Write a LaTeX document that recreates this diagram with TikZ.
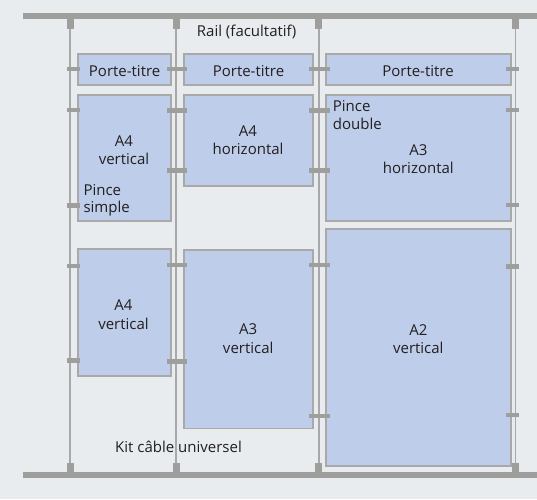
\documentclass[tikz,border=0pt]{standalone}
\usepackage{fontspec}
\setmainfont{Open Sans}
\definecolor{bgc}{HTML}{E8ECEF}
\definecolor{railc}{HTML}{9E9E9C}
\definecolor{cablec}{HTML}{A8A8A8}
\definecolor{panelc}{HTML}{BDCDEA}
\definecolor{panelb}{HTML}{A9A9A9}
\definecolor{txtc}{HTML}{231F20}
\tikzset{
  rail/.style={fill=railc},
  cable/.style={draw=cablec, line width=1.8pt},
  clampbar/.style={fill=railc},
  panel/.style={fill=panelc, draw=panelb, line width=1.4pt},
  lbl/.style={font=\fontsize{15}{18}\selectfont, text=txtc, inner sep=0pt, anchor=base},
  lbll/.style={lbl, anchor=base west},
}
\begin{document}
\begin{tikzpicture}[x=1pt,y=-1pt]
\useasboundingbox (0,0) rectangle (537,499);
\fill[bgc] (0,0) rectangle (537,499);
% cables
\foreach \cx in {70,176,319,515.5}{
  \draw[cable] (\cx,19) -- (\cx,472);
}
% rails
\fill[rail] (23.3,13.3) rectangle (537,19.3);
\fill[rail] (23.3,472) rectangle (537,478.3);
% caps
\foreach \cx in {70.3,176.2,318.7,515.7}{
  \fill[rail] (\cx-3.7,19) rectangle (\cx+3.7,29.3);
  \fill[rail] (\cx-3.7,463) rectangle (\cx+3.7,472.2);
}
% panels
\path[panel] (78,54) rectangle (171,85);
\path[panel] (184,54) rectangle (313,85);
\path[panel] (326,54) rectangle (511,85);
\path[panel] (78,95) rectangle (171,221);
\path[panel] (184,95) rectangle (313,186);
\path[panel] (326,95) rectangle (511,221);
\path[panel] (78,249) rectangle (171,376);
\path[panel] (184,250) rectangle (313,428.5);
\path[panel] (326,229) rectangle (511,466);
% clamps
\foreach \cy in {69,110,205.3,266,360.3}{
  \fill[clampbar] (67,\cy-2.2) rectangle (80,\cy+2.2);
}
\foreach \cy in {69,110.3,170.5,265,361.5}{
  \fill[clampbar] (166.7,\cy-2.3) rectangle (187,\cy+2.3);
}
\foreach \cy in {69,110.3,170.5,265,416}{
  \fill[clampbar] (309,\cy-2.3) rectangle (330,\cy+2.3);
}
\foreach \cy in {69,110,205,266.3,415}{
  \fill[clampbar] (505.5,\cy-2.2) rectangle (519,\cy+2.2);
}
% labels
\node[lbll] (rail) at (196.7,36.5) {Rail (facultatif)};
\node[lbl] (pt1) at (124.6,76.5) {Porte-titre};
\node[lbl] (pt2) at (248.5,76.5) {Porte-titre};
\node[lbl] (pt3) at (418,76.5) {Porte-titre};
\node[lbl] (a4va) at (124,146) {A4};
\node[lbl] (a4vb) at (124,164.5) {vertical};
\node[lbll] (psa) at (83.3,195) {Pince};
\node[lbll] (psb) at (83.3,212.5) {simple};
\node[lbl] (a4ha) at (248,136) {A4};
\node[lbl] (a4hb) at (248,154) {horizontal};
\node[lbll] (pda) at (332.7,111) {Pince};
\node[lbll] (pdb) at (332.7,129) {double};
\node[lbl] (a3ha) at (418.3,155) {A3};
\node[lbl] (a3hb) at (418.3,173) {horizontal};
\node[lbl] (a4wa) at (123.5,310.5) {A4};
\node[lbl] (a4wb) at (123.5,329) {vertical};
\node[lbl] (a3va) at (248.2,334.3) {A3};
\node[lbl] (a3vb) at (248.2,353) {vertical};
\node[lbl] (a2a) at (418.3,335) {A2};
\node[lbl] (a2b) at (418.3,353.5) {vertical};
\node[lbll] (kit) at (115,452.5) {Kit câble universel};
\end{tikzpicture}
\end{document}
